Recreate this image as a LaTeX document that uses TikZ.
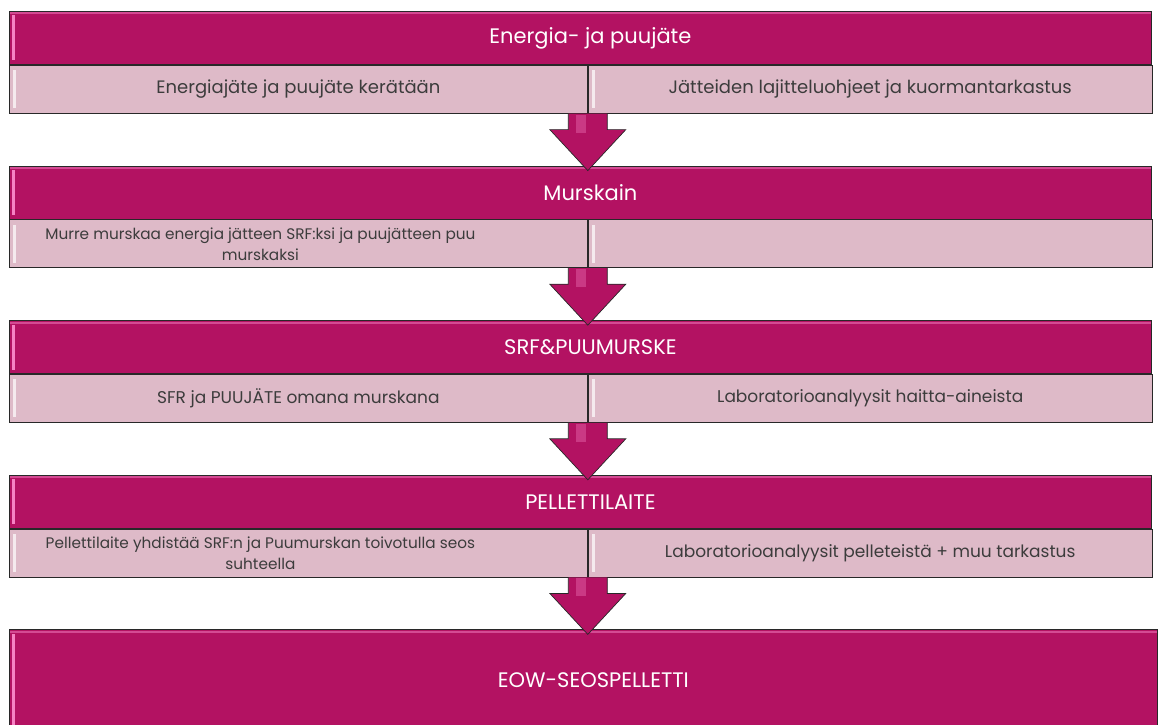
\documentclass[tikz,border=0pt]{standalone}
\usepackage{fontspec}
\setmainfont{Poppins}
\usetikzlibrary{positioning,calc}
\definecolor{vaihe}{RGB}{179,18,98}
\definecolor{vaalea}{RGB}{222,186,200}
\definecolor{reuna}{RGB}{40,40,40}
\definecolor{teksti}{RGB}{60,60,60}
\definecolor{kiilto}{RGB}{246,130,196}
% nuoli solusta seuraavaan otsikkoon
\newcommand{\pilarinuoli}[2]{%
  \draw[nuoli] ($(#1)+(-19.5,0)$) -- ($(#1 |- #2.north)+(-19.5,36)$)
    -- ($(#1 |- #2.north)+(-38,36)$) -- ($(#1 |- #2.north)+(0,-5)$)
    -- ($(#1 |- #2.north)+(38,36)$) -- ($(#1 |- #2.north)+(19.5,36)$)
    -- ($(#1)+(19.5,0)$);
  \fill[kiilto,opacity=0.35] ($(#1)+(-12,-1)$) rectangle ($(#1 |- #2.north)+(-2,33)$);
}
\begin{document}
\begin{tikzpicture}[x=1pt,y=1pt,
    otsikko/.style={draw=reuna, line width=0.8pt, fill=vaihe, text=white,
      minimum width=1142pt, minimum height=53pt, inner sep=0pt,
      font=\fontsize{21}{24}\selectfont, anchor=north west,
      execute at begin node={\hspace*{20pt}},
      path picture={\fill[kiilto] ([xshift=3pt,yshift=-4pt]path picture bounding box.north west)
        rectangle ([xshift=6pt,yshift=4pt]path picture bounding box.south west);
        \fill[kiilto!50!vaihe] ([yshift=-1pt]path picture bounding box.north west)
        rectangle ([yshift=-3pt]path picture bounding box.north east);}},
    solu/.style={draw=reuna, line width=0.8pt, fill=vaalea, text=teksti,
      minimum height=48pt, inner sep=0pt, align=center,
      font=\fontsize{18}{21}\selectfont,
      path picture={\fill[white!70!vaalea] ([xshift=4pt,yshift=-5pt]path picture bounding box.north west)
        rectangle ([xshift=7pt,yshift=5pt]path picture bounding box.south west);}},
    soluteksti/.style={text=teksti, align=center, font=\fontsize{15.3}{21}\selectfont},
    nuoli/.style={draw=reuna, line width=0.7pt, fill=vaihe, line join=miter}]
\useasboundingbox (0,0) rectangle (1158,-724);

% 1
\node[otsikko] (h1) at (9,-11) {Energia- ja puujäte};
\node[solu, minimum width=578pt, below right=0pt and 0pt of h1.south west] (a1) {Energiajäte ja puujäte kerätään};
\node[solu, minimum width=564pt, right=0pt of a1] (b1) {Jätteiden lajitteluohjeet ja kuormantarkastus};
% 2
\node[otsikko, below right=52pt and 0pt of a1.south west] (h2) {Murskain};
\node[solu, minimum width=578pt, below right=0pt and 0pt of h2.south west] (a2) {};
\node[soluteksti] at ([xshift=-38pt]a2.center) {Murre murskaa energia jätteen SRF:ksi ja puujätteen puu\\murskaksi};
\node[solu, minimum width=564pt, right=0pt of a2] (b2) {};
% 3
\node[otsikko, below right=52pt and 0pt of a2.south west] (h3) {SRF\&PUUMURSKE};
\node[solu, minimum width=578pt, below right=0pt and 0pt of h3.south west, font=\fontsize{17}{20}\selectfont] (a3) {SFR ja PUUJÄTE omana murskana};
\node[solu, minimum width=564pt, right=0pt of a3, font=\fontsize{17}{20}\selectfont] (b3) {Laboratorioanalyysit haitta-aineista};
% 4
\node[otsikko, below right=52pt and 0pt of a3.south west] (h4) {PELLETTILAITE};
\node[solu, minimum width=578pt, below right=0pt and 0pt of h4.south west] (a4) {};
\node[soluteksti] at ([xshift=-38pt]a4.center) {Pellettilaite yhdistää SRF:n ja Puumurskan toivotulla seos\\suhteella};
\node[solu, minimum width=564pt, right=0pt of a4, font=\fontsize{17}{20}\selectfont] (b4) {Laboratorioanalyysit pelleteistä + muu tarkastus};
% 5
\node[otsikko, minimum width=1148pt, minimum height=101pt, below right=52pt and 0pt of a4.south west] (h5) {EOW-SEOSPELLETTI};

\pilarinuoli{a1.south east}{h2}
\pilarinuoli{a2.south east}{h3}
\pilarinuoli{a3.south east}{h4}
\pilarinuoli{a4.south east}{h5}
\end{tikzpicture}
\end{document}
